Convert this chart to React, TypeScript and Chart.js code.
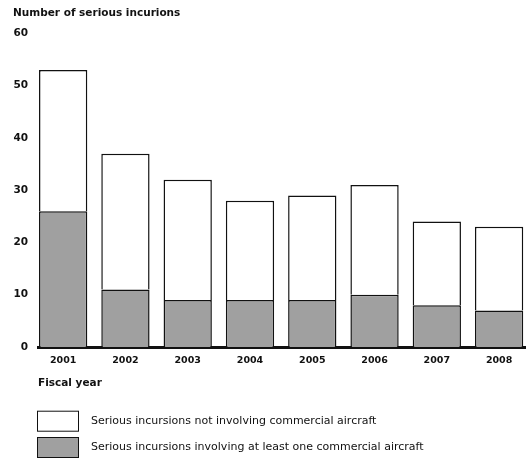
import React, { useEffect, useRef } from "react";
import { Chart, registerables } from "chart.js";

Chart.register(...registerables);

const years = [2001, 2002, 2003, 2004, 2005, 2006, 2007, 2008];
const commercial = [26, 11, 9, 9, 9, 10, 8, 7];
const nonCommercial = [27, 26, 23, 19, 20, 21, 16, 16];
const yTicks = [0, 10, 20, 30, 40, 50, 60];
const yTitle = "Number of serious incurions";
const xTitle = "Fiscal year";
const labelCommercial = "Serious incursions involving at least one commercial aircraft";
const labelNonCommercial = "Serious incursions not involving commercial aircraft";

const BOLD = '"DejaVu Sans", sans-serif';

const legendPlugin = {
  id: "sideLegend",
  afterDraw(chart: any) {
    const ctx = chart.ctx;
    const xScale = chart.scales.x;
    const ds = [...chart.data.datasets].reverse();
    const left = chart.chartArea.left - 1;
    let top = xScale.bottom + 10.7;
    ctx.save();
    ds.forEach((d: any) => {
      ctx.fillStyle = d.backgroundColor;
      ctx.fillRect(left, top, 42, 21);
      ctx.strokeStyle = "#111";
      ctx.lineWidth = 1;
      ctx.strokeRect(left + 0.5, top + 0.5, 41, 20);
      ctx.fillStyle = "#111";
      ctx.font = '11px "DejaVu Sans", sans-serif';
      ctx.textBaseline = "middle";
      ctx.textAlign = "left";
      ctx.fillText(d.label, left + 54, top + 10.5);
      top += 26.3;
    });
    ctx.restore();
  },
};

export default function App() {
  const ref = useRef<HTMLCanvasElement>(null);
  useEffect(() => {
    document.body.style.margin = "0";
    const chart = new Chart(ref.current as HTMLCanvasElement, {
      type: "bar",
      data: {
        datasets: [
          {
            label: labelCommercial,
            data: years.map((y, i) => ({ x: y, y: commercial[i] })),
            backgroundColor: "#a0a0a0",
            borderColor: "#111",
            borderWidth: 1.5,
            borderSkipped: "start",
          },
          {
            label: labelNonCommercial,
            data: years.map((y, i) => ({ x: y, y: nonCommercial[i] })),
            backgroundColor: "#ffffff",
            borderColor: "#111",
            borderWidth: 1.5,
            borderSkipped: "start",
          },
        ],
      },
      options: {
        animation: false,
        responsive: true,
        maintainAspectRatio: false,
        datasets: { bar: { categoryPercentage: 1, barPercentage: 0.7755 } },
        layout: { padding: { left: 13, right: 0, top: 0, bottom: 60 } },
        plugins: {
          legend: { display: false },
          tooltip: { enabled: false },
          title: {
            display: true,
            text: yTitle,
            align: "start",
            color: "#111",
            font: { family: BOLD, size: 10.5, weight: "bold" },
            padding: { top: 6.6, bottom: 14.3 },
          },
        },
        scales: {
          x: {
            type: "linear",
            stacked: true,
            offset: false,
            min: 2000.596,
            max: 2008.432,
            z: 1,
            grid: { display: false, offset: false, drawTicks: false },
            border: { display: true, color: "#111", width: 3 },
            ticks: {
              stepSize: 1,
              includeBounds: false,
              autoSkip: false,
              maxRotation: 0,
              padding: 8,
              color: "#111",
              font: { family: BOLD, size: 9.5, weight: "bold" },
              callback: (v: any) => (Number.isInteger(v) && years.includes(v) ? String(v) : ""),
            },
            title: {
              display: true,
              text: xTitle,
              align: "start",
              color: "#111",
              font: { family: BOLD, size: 10.5, weight: "bold" },
              padding: { top: 2.5, bottom: 10.5 },
            },
          },
          y: {
            stacked: true,
            min: yTicks[0],
            max: yTicks[yTicks.length - 1],
            grid: { display: false, drawTicks: false },
            border: { display: false },
            afterFit: (s: any) => {
              s.width = 25;
            },
            afterBuildTicks: (s: any) => {
              s.ticks = yTicks.map((v) => ({ value: v }));
            },
            ticks: {
              padding: 10,
              color: "#111",
              font: { family: BOLD, size: 10.5, weight: "bold" },
            },
          },
        },
      },
      plugins: [legendPlugin],
    });
    return () => chart.destroy();
  }, []);
  return (
    <div style={{ position: "relative", width: 526, height: 460 }}>
      <canvas ref={ref} style={{ display: "block" }} />
    </div>
  );
}
